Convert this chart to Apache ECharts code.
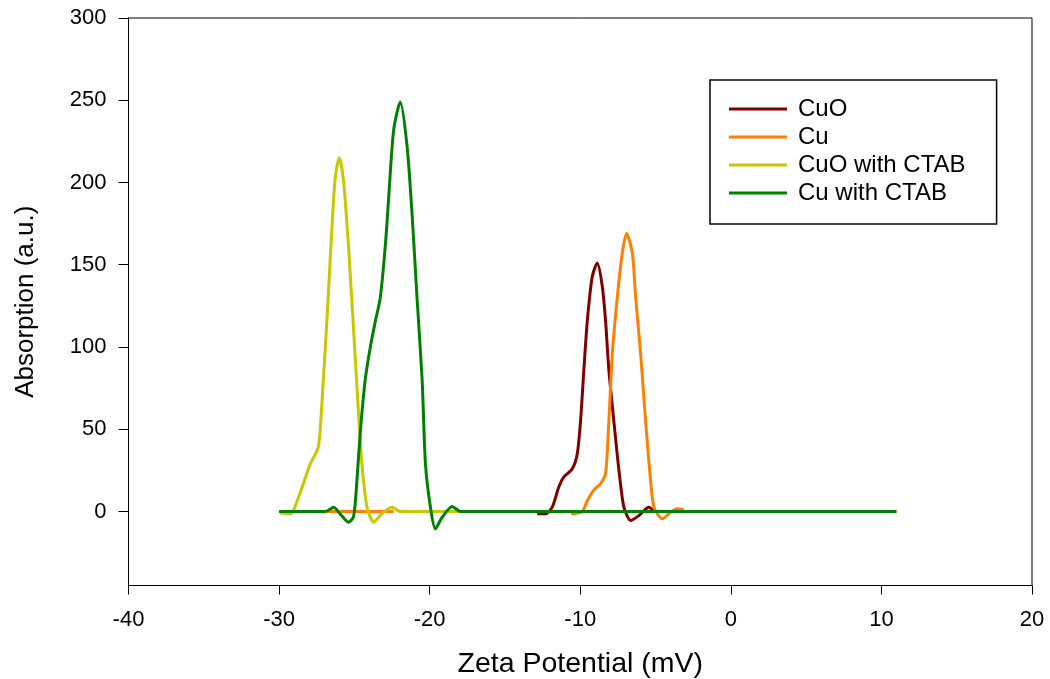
<!DOCTYPE html>
<html><head><meta charset="utf-8">
<script src="https://cdn.jsdelivr.net/npm/echarts@6/dist/echarts.min.js"></script>
<style>html,body{margin:0;padding:0;background:#fff}#c{width:1050px;height:679px}</style>
</head><body><div id="c"></div>
<script>
// Series names
const seriesNames = ['CuO', 'Cu', 'CuO with CTAB', 'Cu with CTAB'];
// CuO
const cuoX = [-12.86, -12.3, -11.86, -11.42, -11.09, -10.53, -10.2, -9.98, -9.76, -9.53, -9.2, -8.87, -8.54, -8.32, -8.1, -7.77, -7.43, -7.1, -6.65, -6.1, -5.44, -5.1];
const cuoY = [-1.4, -1.4, 2.6, 15, 21, 26, 35, 55, 86, 116, 143, 151, 137, 116, 86, 55, 25, 2.6, -5.5, -2.4, 2.6, 0];
// Cu (null marks a gap in the trace)
const cuX = [-26.8, -22.4, -16, -10.6, -9.87, -9.53, -9.1, -8.65, -8.32, -8.1, -7.87, -7.54, -7.21, -6.92, -6.54, -6.32, -5.99, -5.66, -5.33, -5.1, -4.55, -4.0, -3.55, -3.13];
const cuY = [0, 0, null, -1.4, 0, 6.7, 13, 17, 23, 55, 96, 130, 157, 169, 157, 130, 96, 55, 19, 2.6, -4.5, -0.4, 1.6, 1];
// CuO with CTAB
const cuoCtabX = [-29.93, -29.26, -29.07, -28.5, -27.93, -27.4, -27.15, -26.8, -26.5, -26.27, -26.0, -25.72, -25.39, -25.05, -24.72, -24.5, -24.16, -23.72, -23.17, -22.5, -21.95, 11];
const cuoCtabY = [-1, -1.5, 0, 14, 29, 39, 67, 120, 171, 203, 215, 201, 161, 110, 59, 29, 2.6, -6.5, -1.3, 2.6, 0, 0];
// Cu with CTAB
const cuCtabX = [-30, -26.9, -26.38, -25.9, -25.39, -25.05, -24.83, -24.6, -24.28, -23.94, -23.6, -23.28, -22.95, -22.72, -22.39, -21.95, -21.5, -21.17, -20.84, -20.5, -20.28, -19.95, -19.62, -19.17, -18.5, -17.96, 11];
const cuCtabY = [0, 0, 2.6, -2, -6.5, -3, 19, 49, 80, 100, 116, 130, 161, 191, 232, 249, 222, 181, 130, 80, 29, 2.6, -10.5, -3.5, 3, 0, 0];
// Axis ticks
const xTicks = [-40, -30, -20, -10, 0, 10, 20];
const yTicks = [0, 50, 100, 150, 200, 250, 300];

const colors = ['#800000', '#ff8000', '#c8c800', '#008000'];
const zip = (xs, ys) => xs.map((x, i) => [x, ys[i] === null ? '-' : ys[i]]);
const datasets = [zip(cuoX, cuoY), zip(cuX, cuY), zip(cuoCtabX, cuoCtabY), zip(cuCtabX, cuCtabY)];
const font = "'Liberation Sans', Arial, sans-serif";

const chart = echarts.init(document.getElementById('c'));
chart.setOption({
  animation: false,
  backgroundColor: '#fff',
  grid: { left: 128.5, right: 18, top: 18, bottom: 93.5, containLabel: false, outerBoundsMode: 'none', show: true, borderColor: '#000', borderWidth: 1, backgroundColor: 'transparent' },
  legend: {
    orient: 'vertical', left: 710, top: 80,
    data: seriesNames,
    icon: 'rect', itemWidth: 58, itemHeight: 3, itemGap: 0,
    padding: [15, 31, 17, 19],
    borderColor: '#000', borderWidth: 1.5, backgroundColor: '#fff',
    textStyle: { fontFamily: font, fontSize: 24, color: '#000', lineHeight: 28, padding: [0, 0, 0, 6] },
    selectedMode: false
  },
  xAxis: {
    type: 'value', min: -40, max: 20, interval: 10,
    name: 'Zeta Potential (mV)', nameLocation: 'middle', nameGap: 64,
    nameTextStyle: { fontFamily: font, fontSize: 28.5, color: '#000' },
    axisLine: { show: true, onZero: false, lineStyle: { color: '#000', width: 1 } },
    axisTick: { show: true, inside: false, length: 9, lineStyle: { color: '#000' } },
    axisLabel: { fontFamily: font, fontSize: 22, color: '#000', margin: 23, customValues: xTicks },
    splitLine: { show: false }
  },
  yAxis: {
    type: 'value', min: -45, max: 300,
    name: 'Absorption (a.u.)', nameLocation: 'middle', nameGap: 90, nameRotate: 90,
    nameTextStyle: { fontFamily: font, fontSize: 26, color: '#000' },
    axisLine: { show: true, onZero: false, lineStyle: { color: '#000', width: 1 } },
    axisTick: { show: true, inside: false, length: 10, customValues: yTicks, lineStyle: { color: '#000' } },
    axisLabel: { fontFamily: font, fontSize: 22, color: '#000', margin: 22, customValues: yTicks },
    splitLine: { show: false }
  },
  series: seriesNames.map((n, i) => ({
    name: n, type: 'line', data: datasets[i], showSymbol: false, symbol: 'none',
    smooth: 0.25, color: colors[i], connectNulls: false,
    lineStyle: { color: colors[i], width: 3 },
    z: 2 + i
  }))
});
</script></body></html>
